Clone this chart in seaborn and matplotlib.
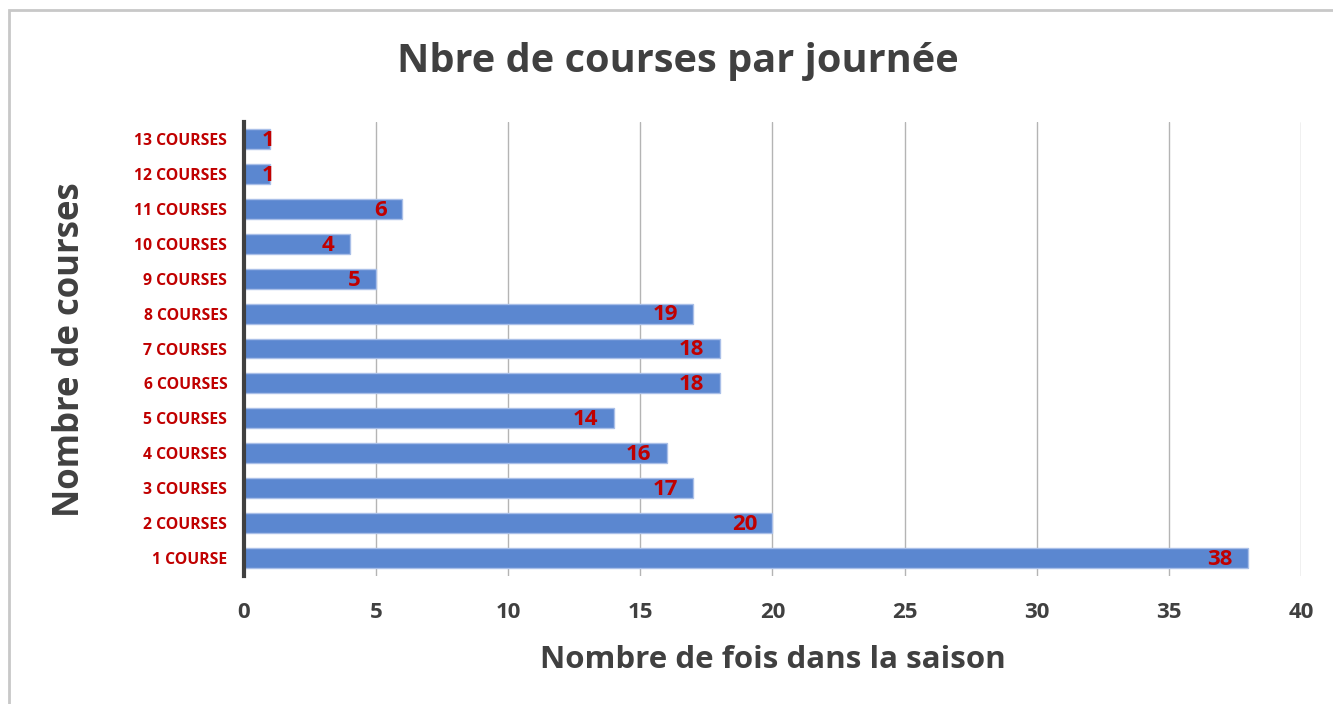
import matplotlib
matplotlib.use("Agg")
import matplotlib.pyplot as plt
import seaborn as sns
import pandas as pd
from matplotlib.patches import Rectangle

# Données
categories = ["13 COURSES", "12 COURSES", "11 COURSES", "10 COURSES", "9 COURSES",
              "8 COURSES", "7 COURSES", "6 COURSES", "5 COURSES", "4 COURSES",
              "3 COURSES", "2 COURSES", "1 COURSE"]
# longueur des barres telle que dessinée
nb_fois = [1, 1, 6, 4, 5, 17, 18, 18, 14, 16, 17, 20, 38]
# étiquettes affichées (la barre "8 COURSES" porte 19 dans l'original)
etiquettes = ["1", "1", "6", "4", "5", "19", "18", "18", "14", "16", "17", "20", "38"]
x_ticks = [0, 5, 10, 15, 20, 25, 30, 35, 40]

BLEU = "#5B87D0"
ROUGE = "#C00000"
GRIS = "#404040"

sns.set_style("white")
plt.rcParams['font.family'] = ['Open Sans', 'DejaVu Sans']
plt.rcParams['font.weight'] = 'bold'

df = pd.DataFrame({"categorie": categories, "nb": nb_fois})

fig = plt.figure(figsize=(13.33, 7.04), dpi=100)
ax = fig.add_axes([0.1830, 0.1825, 0.7930, 0.6449])

sns.barplot(data=df, x="nb", y="categorie", orient="h", color=BLEU,
            saturation=1, width=0.57, edgecolor="#A9BFE8", linewidth=1, ax=ax, zorder=3)

# Étiquettes de valeurs à l'intérieur de l'extrémité des barres
for i, (v, txt) in enumerate(zip(nb_fois, etiquettes)):
    if v < 2:
        ha, dx = "center", -2
    else:
        ha, dx = "right", -11
    ax.annotate(txt, xy=(v, i), xytext=(dx, -1), textcoords="offset points",
                ha=ha, va="center", color=ROUGE, fontsize=16, fontweight="bold",
                zorder=4)

ax.set_xlim(0, 40)
ax.set_xticks(x_ticks)
ax.set_ylim(len(categories) - 0.5, -0.5)
ax.grid(axis="x", color="#B4B4B4", linewidth=1, zorder=0)
ax.grid(axis="y", visible=False)

for s in ["top", "right", "bottom"]:
    ax.spines[s].set_visible(False)
ax.spines["left"].set_color("#404040")
ax.spines["left"].set_linewidth(3)
ax.spines["left"].set_zorder(5)

ax.tick_params(axis="x", length=0, pad=19, labelsize=16, labelcolor=GRIS)
ax.tick_params(axis="y", length=0, pad=12, labelsize=11.3, labelcolor=ROUGE)
for lab in ax.get_xticklabels() + ax.get_yticklabels():
    lab.set_fontweight("bold")

ax.set_xlabel("Nombre de fois dans la saison", fontsize=22.5, fontweight="bold",
              color=GRIS, labelpad=16)
ax.set_ylabel("")
fig.text(70 / 1333, 1 - 350 / 704, "Nombre de courses", rotation=90,
         ha="center", va="center", fontsize=25, fontweight="bold", color=GRIS)

fig.text(0.5085, 0.913, "Nbre de courses par journée", ha="center", va="center",
         fontsize=28.6, fontweight="bold", color=GRIS)

# Cadre gris du graphique
fig.patches.append(Rectangle((9 / 1333, -0.05), 1.1, 1 - 10 / 704 + 0.05,
                             transform=fig.transFigure, fill=False,
                             edgecolor="#C8C8C8", linewidth=2))

fig.savefig("out.png", dpi=100)
